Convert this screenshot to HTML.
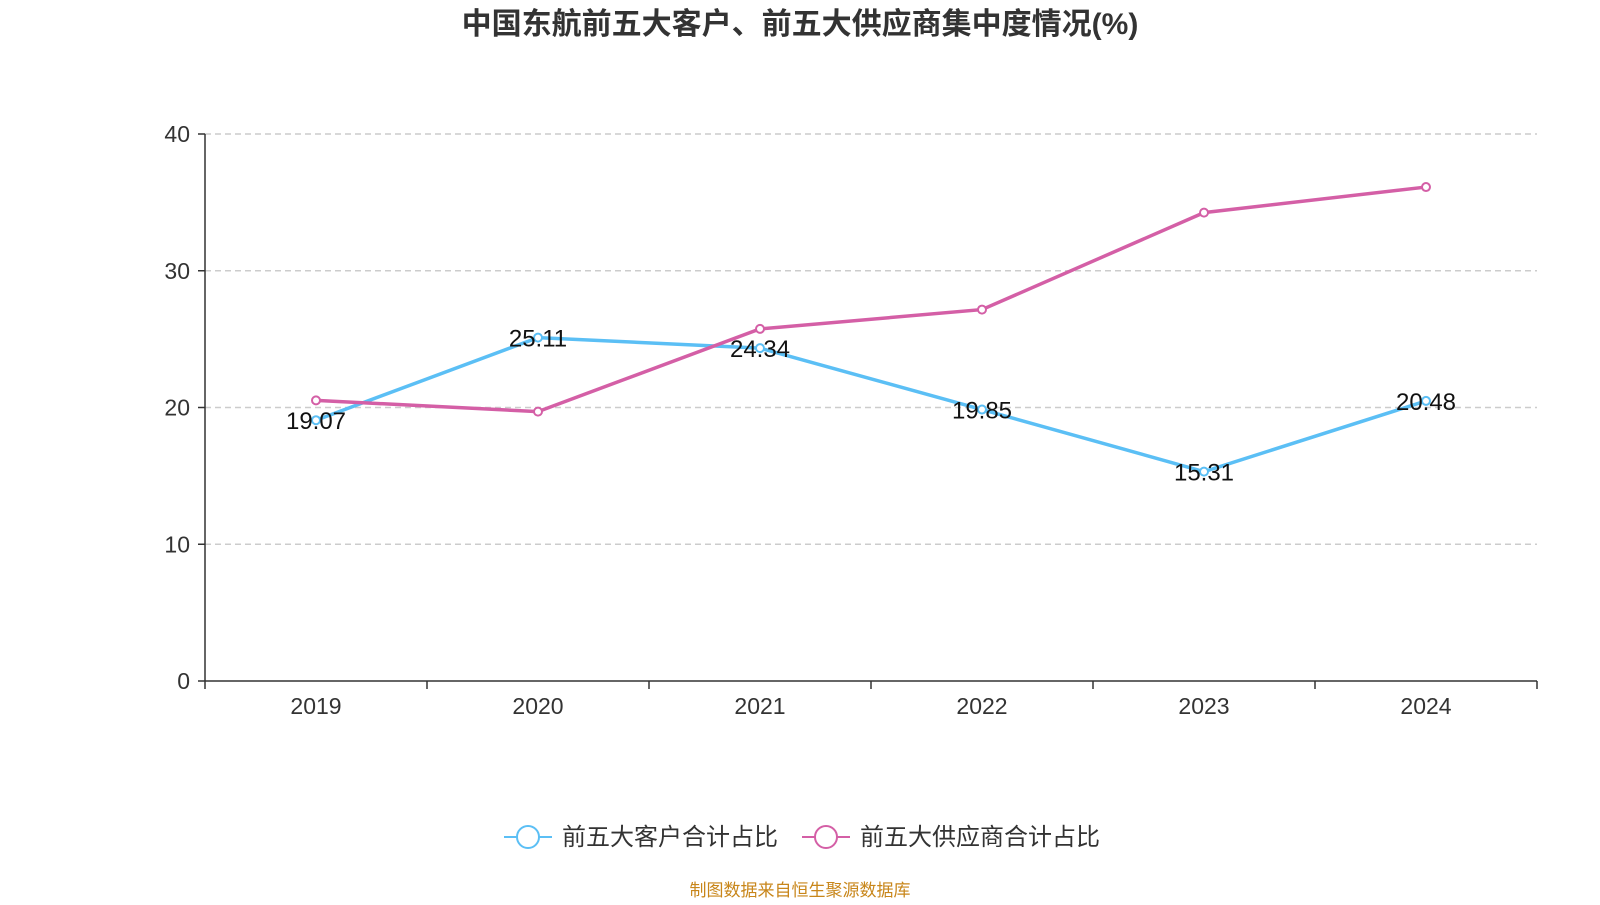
<!DOCTYPE html>
<html><head><meta charset="utf-8"><style>
body{margin:0;width:1600px;height:900px;background:#fff;overflow:hidden;font-family:"Liberation Sans","Noto Sans CJK SC",sans-serif;}
</style></head><body>
<svg id="c" width="1600" height="900" xmlns="http://www.w3.org/2000/svg">
<text x="800" y="34" text-anchor="middle" font-size="30" font-weight="bold" fill="#333" font-family="Liberation Sans, Noto Sans CJK SC, sans-serif">中国东航前五大客户、前五大供应商集中度情况(%)</text>
<g id="grid"></g><g id="axes"></g><g id="series"></g>
<g>
<g>
<line x1="504" y1="837" x2="552" y2="837" stroke="#5bbff5" stroke-width="2"/><circle cx="528" cy="837" r="11" fill="#fff" stroke="#5bbff5" stroke-width="2"/>
<text x="562" y="845" font-size="24" fill="#333">前五大客户合计占比</text></g>
<g>
<line x1="802" y1="837" x2="850" y2="837" stroke="#d45fa6" stroke-width="2"/><circle cx="826" cy="837" r="11" fill="#fff" stroke="#d45fa6" stroke-width="2"/>
<text x="860" y="845" font-size="24" fill="#333">前五大供应商合计占比</text></g>
</g>
<text x="800" y="896" text-anchor="middle" font-size="17" fill="#c8861a">制图数据来自恒生聚源数据库</text>
</svg>
<script>
const categories=["2019","2020","2021","2022","2023","2024"];
const customers=[19.07,25.11,24.34,19.85,15.31,20.48];
const suppliers=[20.52,19.70,25.75,27.16,34.25,36.12];
const yTicks=[0,10,20,30,40];
const NS="http://www.w3.org/2000/svg";
const x0=205,x1=1537,y0=681,yTop=134,yMax=40;
const bw=(x1-x0)/categories.length;
const xs=i=>x0+bw*(i+0.5);
const ys=v=>y0-(v/yMax)*(y0-yTop);
function mk(t,a,p){const e=document.createElementNS(NS,t);for(const k in a)e.setAttribute(k,a[k]);p.appendChild(e);return e;}
const g=document.getElementById('grid'),ax=document.getElementById('axes'),s=document.getElementById('series');
yTicks.forEach(v=>{
 if(v>0){const l=mk('line',{x1:x0,x2:x1,y1:ys(v),y2:ys(v),stroke:'#ccc','stroke-width':1.5,'stroke-dasharray':'6,4'},g);
 
 }
 mk('line',{x1:x0-7,x2:x0,y1:ys(v),y2:ys(v),stroke:'#333','stroke-width':1.5},ax);
 const t=mk('text',{x:x0-15,y:ys(v)+8,'text-anchor':'end','font-size':23,fill:'#333'},ax);t.textContent=v;
 
 
});
mk('line',{x1:x0,x2:x0,y1:yTop,y2:y0,stroke:'#333','stroke-width':1.5},ax);
mk('line',{x1:x0,x2:x1,y1:y0,y2:y0,stroke:'#333','stroke-width':1.5},ax);
for(let i=0;i<=categories.length;i++)mk('line',{x1:x0+bw*i,x2:x0+bw*i,y1:y0,y2:y0+8,stroke:'#333','stroke-width':1.5},ax);
categories.forEach((c,i)=>{const t=mk('text',{x:xs(i),y:y0+33,'text-anchor':'middle','font-size':23,fill:'#333'},ax);t.textContent=c;
 
 });
function line(data,color,name){
 const p=mk('polyline',{points:data.map((v,i)=>xs(i)+','+ys(v)).join(' '),fill:'none',stroke:color,'stroke-width':3.5},s);
 
 
 data.forEach((v,i)=>{const c=mk('circle',{cx:xs(i),cy:ys(v),r:4,fill:'#fff',stroke:color,'stroke-width':2},s);
  
  
 });
}
line(customers,'#5bbff5','customers');
line(suppliers,'#d45fa6','suppliers');
customers.forEach((v,i)=>{const t=mk('text',{x:xs(i),y:ys(v)+9,'text-anchor':'middle','font-size':24,fill:'#111'},s);t.textContent=v.toFixed(2);
 
 });
</script>
</body></html>
